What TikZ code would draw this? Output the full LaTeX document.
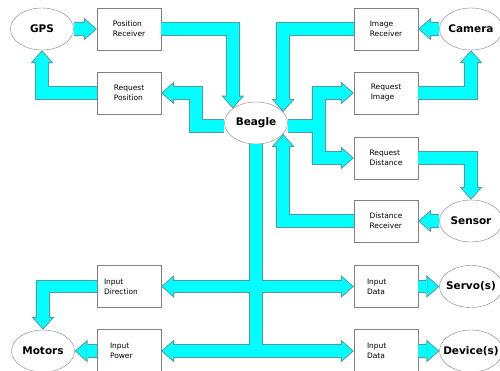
\documentclass[tikz,border=0pt]{standalone}
\usepackage{fontspec}
\setmainfont{DejaVu Sans}
\usetikzlibrary{shapes.geometric,arrows.meta}
\definecolor{flow}{HTML}{00FFFF}
\definecolor{flowline}{HTML}{4E9CA6}
\definecolor{frame}{HTML}{808080}
\tikzstyle{blk}=[rectangle,draw=frame,fill=white,minimum width=64pt,minimum height=42pt,inner sep=0pt,align=left,font=\fontsize{7.5}{10}\selectfont]
\tikzstyle{unit}=[ellipse,draw=frame,fill=white,minimum width=63pt,minimum height=42pt,inner xsep=-6pt,inner ysep=0pt,font=\fontsize{10.5}{12}\selectfont\bfseries]
\tikzstyle{fatedge}=[draw=flowline,line width=13.5pt,line join=miter,-{Triangle[width=23pt,length=13pt,line width=0pt]}]
\tikzstyle{fatfill}=[draw=flow,line width=11.5pt,line join=miter,shorten >=1.5pt,-{Triangle[width=18.6pt,length=10.5pt,line width=0pt]}]
% all the fat arrows, drawn once as outline and once as fill
\newcommand{\flows}[1]{%
  \draw[#1] (gps.east) -- (prec.west);
  \draw[#1] (prec.east) -| (beagle.148);
  \draw[#1] ([yshift=-3pt]beagle.west) -| ([xshift=35pt]rpos.east) -- (rpos.east);
  \draw[#1] (rpos.west) -| (gps.south);
  \draw[#1] (cam.west) -- (irec.east);
  \draw[#1] (irec.west) -| (beagle.22);
  \draw[#1] ([yshift=-3pt]beagle.east) -| ([xshift=-35pt]rimg.west) -- (rimg.west);
  \draw[#1] ([yshift=-3pt]beagle.east) -| ([xshift=-35pt]rdist.west) -- (rdist.west);
  \draw[#1] (rimg.east) -| (cam.south);
  \draw[#1] (rdist.east) -| (sens.north);
  \draw[#1] (sens.west) -- (drec.east);
  \draw[#1] (drec.west) -| (beagle.-22);
  \draw[#1] (beagle.south) |- (idir.east);
  \draw[#1] (beagle.south) |- (sdata.west);
  \draw[#1] (beagle.south) |- (ipow.east);
  \draw[#1] (beagle.south) |- (ddata.west);
  \draw[#1] (idir.west) -| (mot.north);
  \draw[#1] (ipow.west) -- (mot.east);
  \draw[#1] (sdata.east) -- (servo.west);
  \draw[#1] (ddata.east) -- (dev.west);
}

\begin{document}
\begin{tikzpicture}[x=1pt,y=-1pt]
\useasboundingbox (0,0) rectangle (500,371);
\clip (0,0) rectangle (500,371);
\fill[white] (0,0) rectangle (500,371);
% units
\node[unit] (gps) at (42,29) {GPS};
\node[unit] (cam) at (471,29) {Camera};
\node[unit] (beagle) at (256,123) {Beagle};
\node[unit] (sens) at (471,221) {Sensor};
\node[unit] (servo) at (471,286.5) {Servo(s)};
\node[unit] (mot) at (43,351) {Motors};
\node[unit] (dev) at (471,351) {Device(s)};
% blocks
\node[blk] (prec) at (129,29) {Position\\Receiver};
\node[blk] (rpos) at (129,93) {Request\\Position};
\node[blk] (irec) at (386,29) {Image\\Receiver};
\node[blk] (rimg) at (386,93) {Request\\Image};
\node[blk] (rdist) at (386,158) {Request\\Distance};
\node[blk] (drec) at (386,221) {Distance\\Receiver};
\node[blk,text width=50pt] (idir) at (129,286.5) {Input\\Direction};
\node[blk,text width=38pt] (sdata) at (386,286.5) {Input\\Data};
\node[blk,text width=38pt,minimum height=44pt] (ipow) at (129,351) {Input\\Power};
\node[blk,text width=38pt,minimum height=44pt] (ddata) at (386,351) {Input\\Data};
\flows{fatedge}
\flows{fatfill}
\end{tikzpicture}
\end{document}
